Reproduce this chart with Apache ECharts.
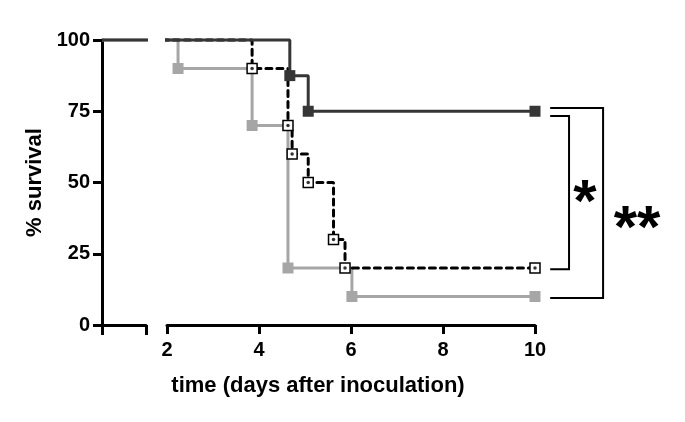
<!DOCTYPE html>
<html>
<head>
<meta charset="utf-8">
<script src="https://cdn.jsdelivr.net/npm/echarts@6/dist/echarts.min.js"></script>
<style>
  html, body { margin: 0; background: #fff; }
  #main { width: 685px; height: 422px; }
</style>
</head>
<body>
<div id="main"></div>
<script>
// survival steps: [day, % survival] at each drop (and the last follow-up point)
var darkSteps = [[4.67, 87.5], [5.07, 75], [10, 75]]
var greySteps = [[2.24, 90], [3.85, 70], [4.63, 20], [6.02, 10], [10, 10]]
var dottedSteps = [[3.85, 90], [4.63, 70], [4.72, 60], [5.07, 50], [5.62, 30], [5.87, 20], [10, 20]]
var startSurvival = 100
var xTicks = [2, 4, 6, 8, 10]
var yTicks = [0, 25, 50, 75, 100]

var FONT = "'Liberation Sans', Arial, sans-serif"
var DARK = '#363636'
var GREY = '#a6a6a6'

function withStart(steps) {
  // first point is the start of follow-up (just left of the axis break), no marker
  return [{ value: [1.9, startSurvival], symbol: 'none' }].concat(steps)
}

var myChart = echarts.init(document.getElementById('main'))

var axisLine = { show: true, lineStyle: { color: '#000', width: 3 } }

var option = {
  animation: false,
  backgroundColor: '#fff',
  grid: [
    { left: 102, top: 40, width: 44, height: 285 },
    { left: 167, top: 40, width: 368, height: 285 },
  ],
  xAxis: [
    {
      gridIndex: 0, type: 'value', min: 0, max: 1, interval: 1,
      axisLine: axisLine,
      axisTick: { show: true, length: 10, lineStyle: { color: '#000', width: 3 } },
      axisLabel: { show: false },
      splitLine: { show: false },
    },
    {
      gridIndex: 1, type: 'value', min: 2, max: 10, interval: 2,
      axisLine: axisLine,
      axisTick: { show: true, length: 9, lineStyle: { color: '#000', width: 3 } },
      axisLabel: {
        show: true, margin: 15, color: '#000', fontSize: 20, fontWeight: 'bold', fontFamily: FONT,
        customValues: xTicks,
      },
      splitLine: { show: false },
    },
  ],
  yAxis: [
    {
      gridIndex: 0, type: 'value', min: 0, max: 100, interval: 25,
      name: '% survival', nameLocation: 'middle', nameGap: 56, nameRotate: 90,
      nameTextStyle: { color: '#000', fontSize: 22, fontWeight: 'bold', fontFamily: FONT },
      axisLine: axisLine,
      axisTick: { show: true, length: 9, lineStyle: { color: '#000', width: 3 } },
      axisLabel: {
        show: true, margin: 12, color: '#000', fontSize: 20, fontWeight: 'bold', fontFamily: FONT,
        customValues: yTicks,
      },
      splitLine: { show: false },
    },
    {
      gridIndex: 1, type: 'value', min: 0, max: 100, show: false,
      splitLine: { show: false },
    },
  ],
  series: [
    // left of the axis break: everyone alive
    {
      type: 'line', xAxisIndex: 0, yAxisIndex: 0, clip: false, z: 2, symbol: 'none',
      data: [[0, startSurvival], [1.09, startSurvival]],
      lineStyle: { color: GREY, width: 3 },
    },
    {
      type: 'line', xAxisIndex: 0, yAxisIndex: 0, clip: false, z: 4, symbol: 'none',
      data: [[0, startSurvival], [1.09, startSurvival]],
      lineStyle: { color: DARK, width: 3 },
    },
    // grey group
    {
      type: 'line', xAxisIndex: 1, yAxisIndex: 1, step: 'end', clip: false, z: 2,
      data: withStart(greySteps),
      symbol: 'rect', symbolSize: 11,
      lineStyle: { color: GREY, width: 3 },
      itemStyle: { color: GREY, borderWidth: 0 },
    },
    // dotted group
    {
      type: 'line', xAxisIndex: 1, yAxisIndex: 1, step: 'end', clip: false, z: 3,
      data: withStart(dottedSteps),
      symbol: 'rect', symbolSize: 10,
      lineStyle: { color: '#000', width: 3, type: [6, 5], cap: 'round' },
      itemStyle: { color: '#fff', borderColor: '#000', borderWidth: 1.5 },
    },
    {
      type: 'scatter', xAxisIndex: 1, yAxisIndex: 1, clip: false, z: 3,
      data: dottedSteps, symbol: 'circle', symbolSize: 3.5,
      itemStyle: { color: '#000' },
    },
    // dark group
    {
      type: 'line', xAxisIndex: 1, yAxisIndex: 1, step: 'end', clip: false, z: 4,
      data: withStart(darkSteps),
      symbol: 'rect', symbolSize: 11,
      lineStyle: { color: DARK, width: 3 },
      itemStyle: { color: DARK, borderWidth: 0 },
    },
  ],
}

myChart.setOption(option)

// significance brackets to the right of the curves
function px(x, y) {
  return myChart.convertToPixel({ xAxisIndex: 1, yAxisIndex: 1 }, [x, y])
}
var armStart = 10.33
var inner = { x: 10.74, top: 73.3, bottom: 19.6 }
var outer = { x: 11.48, top: 76.1, bottom: 9.5 }

function bracket(b) {
  return {
    type: 'polyline',
    shape: { points: [px(armStart, b.top), px(b.x, b.top), px(b.x, b.bottom), px(armStart, b.bottom)] },
    style: { stroke: '#000', lineWidth: 2, fill: null },
  }
}

var innerMid = px(inner.x, (inner.top + inner.bottom) / 2)
var outerMid = px(outer.x, (outer.top + outer.bottom) / 2)

myChart.setOption({
  graphic: [
    bracket(inner),
    bracket(outer),
    {
      type: 'text', x: innerMid[0] + 16, y: innerMid[1] + 12,
      style: { text: '*', fill: '#000', font: 'bold 60px ' + FONT, textAlign: 'center', textVerticalAlign: 'middle' },
    },
    {
      type: 'text', x: outerMid[0] + 34, y: outerMid[1] + 27,
      style: { text: '**', fill: '#000', font: 'bold 60px ' + FONT, textAlign: 'center', textVerticalAlign: 'middle' },
    },
    {
      type: 'text', x: 318, y: 386,
      style: { text: 'time (days after inoculation)', fill: '#000', font: 'bold 22px ' + FONT, textAlign: 'center', textVerticalAlign: 'middle' },
    },
  ],
})
</script>
</body>
</html>
